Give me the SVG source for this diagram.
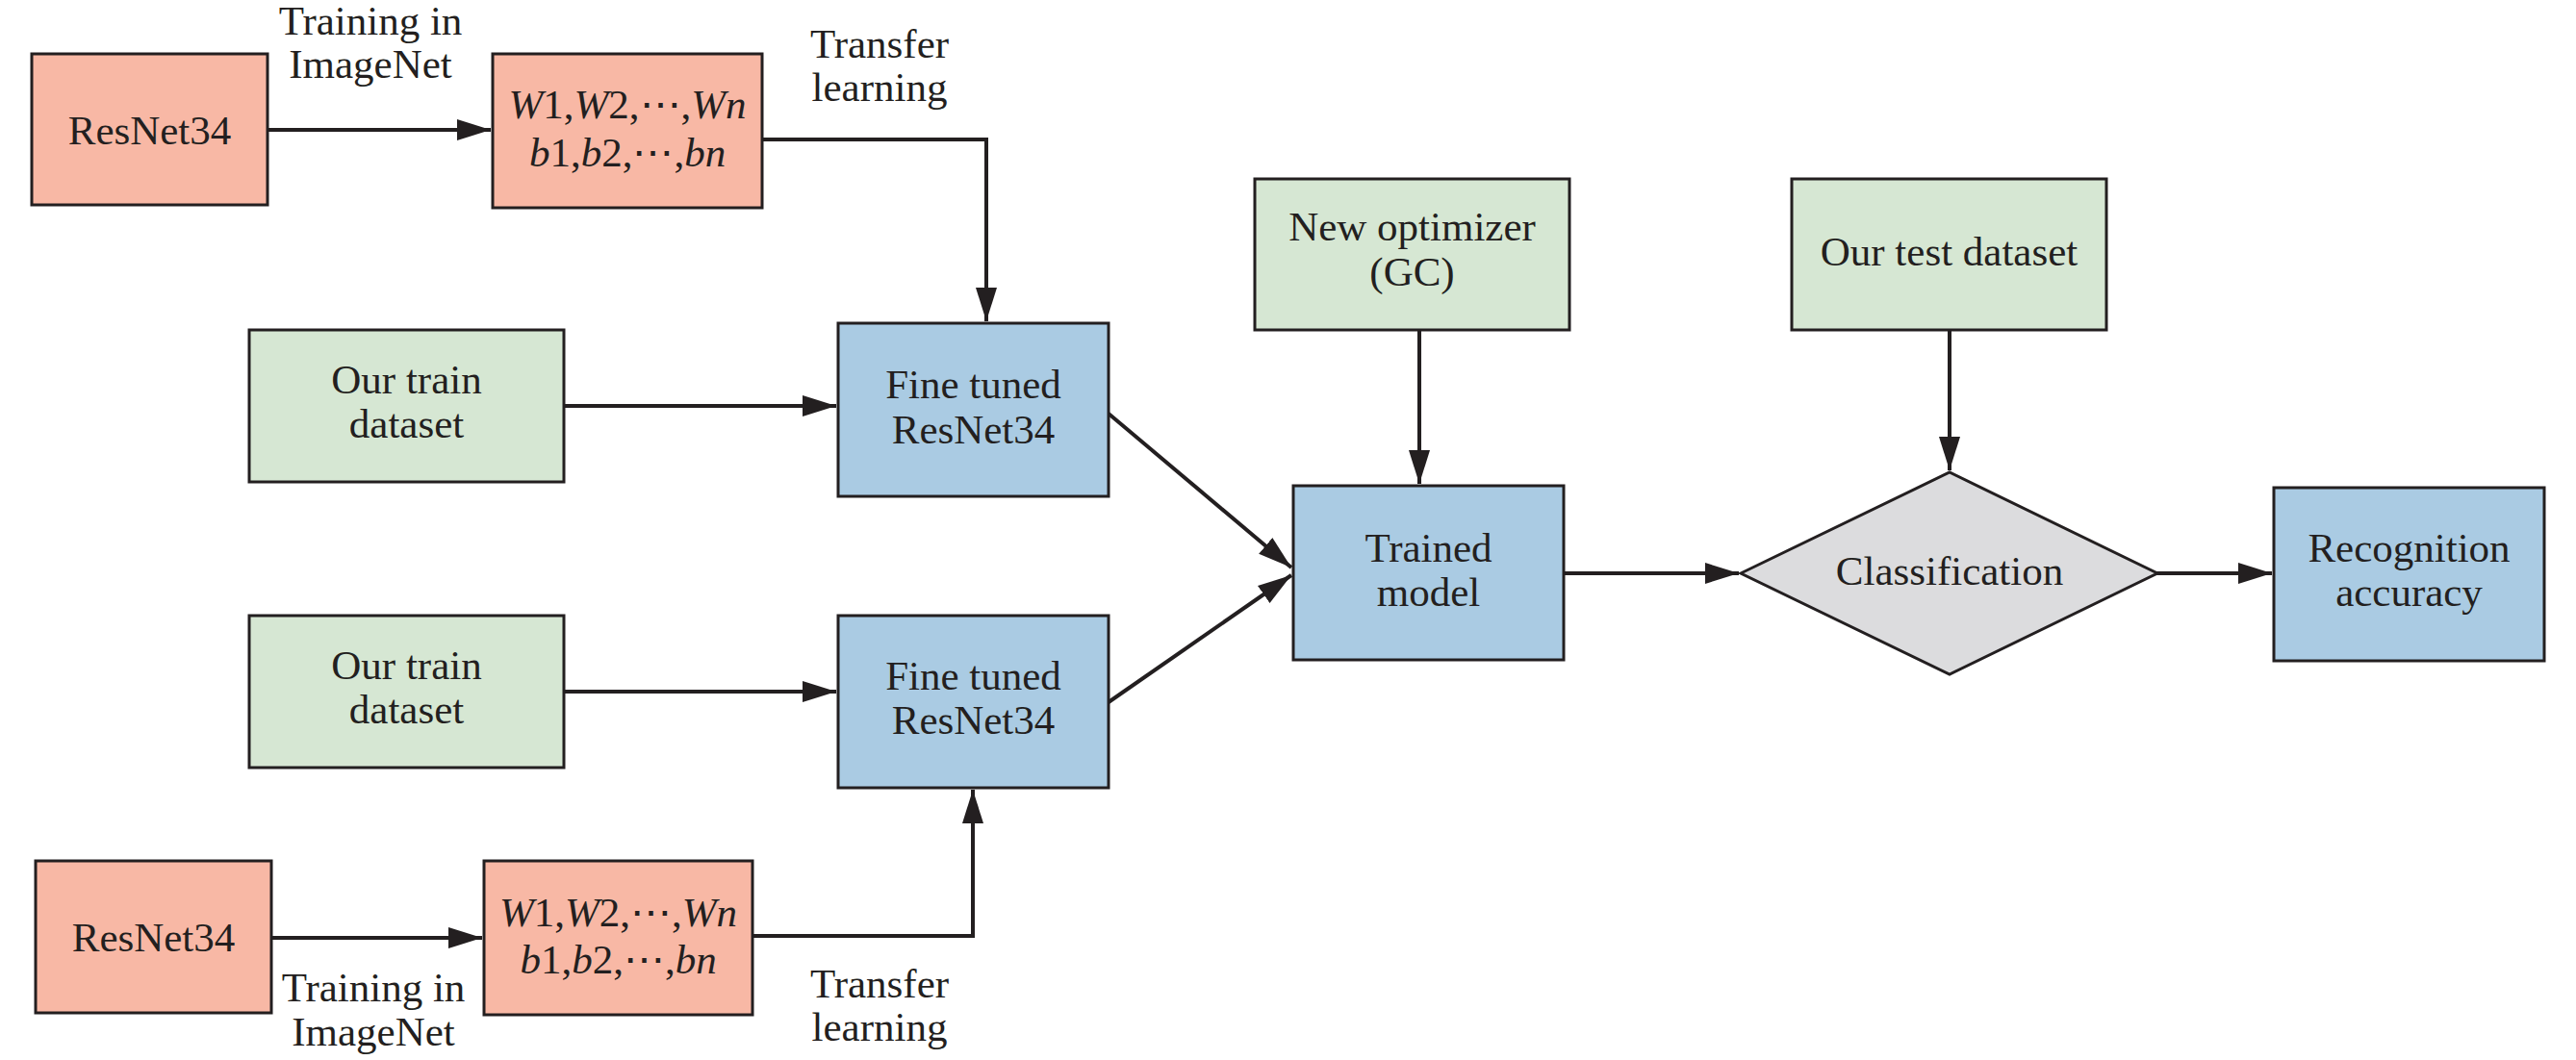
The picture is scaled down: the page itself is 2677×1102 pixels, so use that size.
<svg xmlns="http://www.w3.org/2000/svg" width="2677" height="1102" viewBox="0 0 2677 1102">
<style>
  .box { stroke: #231F20; stroke-width: 3; }
  .red { fill: #F8B8A5; }
  .green { fill: #D6E7D3; }
  .blue { fill: #AACBE3; }
  .gray { fill: #DCDCDE; }
  text { font-family: "Liberation Serif", "DejaVu Serif", serif; font-size: 43px; fill: #231F20; text-anchor: middle; }
  .it { font-style: italic; }
  .conn { stroke: #231F20; stroke-width: 4; fill: none; }
</style>
<defs>
  <marker id="arr" markerUnits="userSpaceOnUse" markerWidth="36" markerHeight="24" refX="35" refY="12" orient="auto">
    <path d="M0,1 L35,12 L0,23 z" fill="#231F20"/>
  </marker>
</defs>
<rect width="2677" height="1102" fill="#FFFFFF"/>

<g id="connectors">
  <line class="conn" x1="278" y1="135" x2="510" y2="135" marker-end="url(#arr)"/>
  <polyline class="conn" points="792,145 1025,145 1025,334" marker-end="url(#arr)"/>
  <line class="conn" x1="586" y1="422" x2="869" y2="422" marker-end="url(#arr)"/>
  <line class="conn" x1="1152" y1="430" x2="1342" y2="590" marker-end="url(#arr)"/>
  <line class="conn" x1="1152" y1="730" x2="1342" y2="598" marker-end="url(#arr)"/>
  <line class="conn" x1="1475" y1="343" x2="1475" y2="503" marker-end="url(#arr)"/>
  <line class="conn" x1="1625" y1="596" x2="1807" y2="596" marker-end="url(#arr)"/>
  <line class="conn" x1="2026" y1="343" x2="2026" y2="489" marker-end="url(#arr)"/>
  <line class="conn" x1="2241" y1="596" x2="2361" y2="596" marker-end="url(#arr)"/>
  <line class="conn" x1="586" y1="719" x2="869" y2="719" marker-end="url(#arr)"/>
  <line class="conn" x1="282" y1="975" x2="501" y2="975" marker-end="url(#arr)"/>
  <polyline class="conn" points="782,973 1011,973 1011,821" marker-end="url(#arr)"/>
</g>

<g id="label-training-1">
  <text x="385" y="36">Training in</text>
  <text x="385" y="81">ImageNet</text>
</g>
<g id="label-transfer-1">
  <text x="914" y="60">Transfer</text>
  <text x="914" y="105">learning</text>
</g>
<g id="label-training-2">
  <text x="388" y="1041">Training in</text>
  <text x="388" y="1087">ImageNet</text>
</g>
<g id="label-transfer-2">
  <text x="914" y="1037">Transfer</text>
  <text x="914" y="1082">learning</text>
</g>

<g id="resnet34-1">
  <rect class="box red" x="33" y="56" width="245" height="157"/>
  <text x="155.5" y="150">ResNet34</text>
</g>
<g id="weights-1">
  <rect class="box red" x="512" y="56" width="280" height="160"/>
  <text x="652" y="123"><tspan class="it">W</tspan>1,<tspan class="it">W</tspan>2,⋯,<tspan class="it">Wn</tspan></text>
  <text x="652" y="173"><tspan class="it">b</tspan>1,<tspan class="it">b</tspan>2,⋯,<tspan class="it">bn</tspan></text>
</g>
<g id="train-dataset-1">
  <rect class="box green" x="259" y="343" width="327" height="158"/>
  <text x="422.5" y="409">Our train</text>
  <text x="422.5" y="455">dataset</text>
</g>
<g id="fine-tuned-1">
  <rect class="box blue" x="871" y="336" width="281" height="180"/>
  <text x="1011.5" y="414">Fine tuned</text>
  <text x="1011.5" y="461">ResNet34</text>
</g>
<g id="train-dataset-2">
  <rect class="box green" x="259" y="640" width="327" height="158"/>
  <text x="422.5" y="706">Our train</text>
  <text x="422.5" y="752">dataset</text>
</g>
<g id="fine-tuned-2">
  <rect class="box blue" x="871" y="640" width="281" height="179"/>
  <text x="1011.5" y="717">Fine tuned</text>
  <text x="1011.5" y="763">ResNet34</text>
</g>
<g id="resnet34-2">
  <rect class="box red" x="37" y="895" width="245" height="158"/>
  <text x="159.5" y="989">ResNet34</text>
</g>
<g id="weights-2">
  <rect class="box red" x="503" y="895" width="279" height="160"/>
  <text x="642.5" y="963"><tspan class="it">W</tspan>1,<tspan class="it">W</tspan>2,⋯,<tspan class="it">Wn</tspan></text>
  <text x="642.5" y="1012"><tspan class="it">b</tspan>1,<tspan class="it">b</tspan>2,⋯,<tspan class="it">bn</tspan></text>
</g>
<g id="new-optimizer">
  <rect class="box green" x="1304" y="186" width="327" height="157"/>
  <text x="1467.5" y="250">New optimizer</text>
  <text x="1467.5" y="297">(GC)</text>
</g>
<g id="trained-model">
  <rect class="box blue" x="1344" y="505" width="281" height="181"/>
  <text x="1484.5" y="584">Trained</text>
  <text x="1484.5" y="630">model</text>
</g>
<g id="test-dataset">
  <rect class="box green" x="1862" y="186" width="327" height="157"/>
  <text x="2025.5" y="276">Our test dataset</text>
</g>
<g id="classification">
  <polygon class="box gray" points="1809,596 2026,491 2242,596 2026,701"/>
  <text x="2026" y="608">Classification</text>
</g>
<g id="recognition-accuracy">
  <rect class="box blue" x="2363" y="507" width="281" height="180"/>
  <text x="2503.5" y="584">Recognition</text>
  <text x="2503.5" y="630">accuracy</text>
</g>
</svg>
